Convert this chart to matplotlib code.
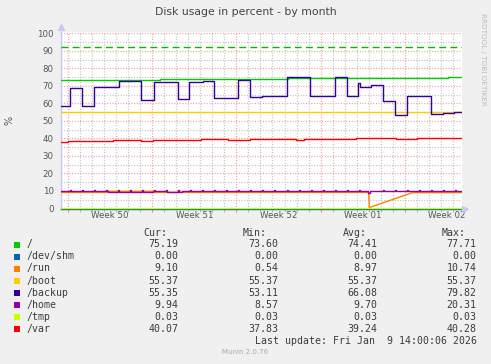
import matplotlib
matplotlib.use("Agg")
import matplotlib.pyplot as plt
import matplotlib.dates as mdates
import pandas as pd
from matplotlib.patches import Rectangle

# ---------------- data ----------------
title = "Disk usage in percent - by month"
x_start = "2025-12-07 09:30"
x_end = "2026-01-09 17:30"

series_names = ["/", "/dev/shm", "/run", "/boot", "/backup", "/home", "/tmp", "/var"]
series_colors = ["#00CC00", "#0066B3", "#FF8000", "#FFCC00", "#330099", "#990099", "#CCFF00", "#FF0000"]
cur_vals = ["75.19", "0.00", "9.10", "55.37", "55.35", "9.94", "0.03", "40.07"]
min_vals = ["73.60", "0.00", "0.54", "55.37", "53.11", "8.57", "0.03", "37.83"]
avg_vals = ["74.41", "0.00", "8.97", "55.37", "66.08", "9.70", "0.03", "39.24"]
max_vals = ["77.71", "0.00", "10.74", "55.37", "79.82", "20.31", "0.03", "40.28"]

root_t = ["2025-12-07 09:30", "2025-12-15 16:00", "2025-12-26 06:00", "2026-01-08 13:30", "2026-01-09 17:30"]
root_v = [73.6, 74.1, 74.5, 75.2, 75.2]

shm_t = ["2025-12-07 09:30", "2026-01-09 17:30"]
shm_v = [0.0, 0.0]

run_t = ["2025-12-07 09:30", "2025-12-11 08:00", "2025-12-11 08:00", "2025-12-15 02:00",
         "2025-12-15 02:00", "2026-01-02 00:00", "2026-01-02 01:00", "2026-01-05 15:30",
         "2026-01-09 17:30"]
run_v = [9.2, 9.2, 9.8, 9.8, 9.2, 9.2, 0.54, 9.1, 9.1]

boot_t = ["2025-12-07 09:30", "2026-01-09 17:30"]
boot_v = [55.37, 55.37]

backup_t = ["2025-12-07 09:30", "2025-12-08 04:00", "2025-12-09 04:00", "2025-12-10 03:30",
            "2025-12-12 05:30", "2025-12-14 02:40", "2025-12-15 03:30", "2025-12-17 04:00",
            "2025-12-18 01:30", "2025-12-19 05:30", "2025-12-20 02:40", "2025-12-22 03:30",
            "2025-12-23 04:00", "2025-12-24 03:30", "2025-12-26 05:30", "2025-12-28 02:40",
            "2025-12-30 04:50", "2025-12-31 04:00", "2026-01-01 03:30", "2026-01-01 06:00",
            "2026-01-02 04:00", "2026-01-03 03:30", "2026-01-04 04:50", "2026-01-05 04:00",
            "2026-01-07 04:00", "2026-01-08 03:30", "2026-01-09 02:40", "2026-01-09 17:30"]
backup_v = [58.6, 69.0, 58.6, 69.6,
            73.1, 61.8, 72.5, 62.4,
            72.5, 73.1, 62.9, 73.4,
            63.5, 64.2, 74.9, 64.2,
            74.9, 64.2, 71.9, 69.3,
            70.4, 61.2, 53.3, 64.3,
            54.0, 54.8, 55.4, 55.4]

home_base_t = ["2025-12-07 09:30", "2025-12-11 08:00", "2025-12-15 02:00", "2025-12-16 06:00",
               "2025-12-17 12:00", "2026-01-01 22:00", "2026-01-02 02:00", "2026-01-09 17:30"]
home_base_v = [9.9, 9.3, 9.9, 9.4, 9.9, 8.6, 9.9, 9.9]
home_spike_t = ["2025-12-08 05:00", "2025-12-09 05:00", "2025-12-10 05:00", "2025-12-11 05:00",
                "2025-12-12 05:00", "2025-12-13 05:00", "2025-12-14 05:00", "2025-12-15 05:00",
                "2025-12-16 05:00", "2025-12-17 05:00", "2025-12-18 05:00", "2025-12-19 05:00",
                "2025-12-20 05:00", "2025-12-21 05:00", "2025-12-22 05:00", "2025-12-23 05:00",
                "2025-12-24 05:00", "2025-12-25 05:00", "2025-12-26 05:00", "2025-12-27 05:00",
                "2025-12-28 05:00", "2025-12-29 05:00", "2025-12-30 05:00", "2025-12-31 05:00",
                "2026-01-01 05:00", "2026-01-03 05:00", "2026-01-04 05:00", "2026-01-05 05:00",
                "2026-01-06 05:00", "2026-01-07 05:00", "2026-01-08 05:00", "2026-01-09 05:00"]
home_spike_v = 10.7

tmp_t = ["2025-12-07 09:30", "2026-01-09 17:30"]
tmp_v = [0.03, 0.03]

var_t = ["2025-12-07 09:30", "2025-12-08 00:00", "2025-12-11 17:00", "2025-12-14 02:40",
         "2025-12-15 00:45", "2025-12-19 01:30", "2025-12-21 06:45", "2025-12-23 03:30",
         "2025-12-26 22:00", "2025-12-27 14:00", "2025-12-31 22:00", "2026-01-04 06:00",
         "2026-01-06 00:00", "2026-01-09 17:30"]
var_v = [37.8, 38.7, 39.3, 38.7,
         39.3, 39.7, 38.9, 39.7,
         38.9, 39.5, 40.1, 39.5,
         40.1, 40.1]

warning_level = 92

mondays = ["2025-12-08", "2025-12-15", "2025-12-22", "2025-12-29", "2026-01-05"]
week_label_t = ["2025-12-11 12:00", "2025-12-18 12:00", "2025-12-25 12:00", "2026-01-01 12:00", "2026-01-08 12:00"]
week_labels = ["Week 50", "Week 51", "Week 52", "Week 01", "Week 02"]
y_ticks = [0, 10, 20, 30, 40, 50, 60, 70, 80, 90, 100]
y_minor = [5, 15, 25, 35, 45, 55, 65, 75, 85, 95]

last_update = "Last update: Fri Jan  9 14:00:06 2026"

# ---------------- figure ----------------
W, H = 491, 364


def fx(x):
    return x / W


def fy(y):
    return 1 - y / H


BG = "#F0F0F0"
fig = plt.figure(figsize=(W / 100, H / 100), dpi=100, facecolor=BG)
L, R, T, B = 60.7, 461.7, 31.7, 208.5
ax = fig.add_axes([fx(L), fy(B), (R - L) / W, (B - T) / H])
ax.set_facecolor("white")

D = pd.to_datetime


def build_home():
    base = pd.Series(home_base_v, index=D(home_base_t))
    pts = list(zip(base.index, base.values))
    for s in D(home_spike_t):
        b = base.asof(s + pd.Timedelta(hours=1))
        pts.append((s - pd.Timedelta(hours=1), home_spike_v))
        pts.append((s + pd.Timedelta(hours=1), b))
    pts.sort(key=lambda p: p[0])
    return [p[0] for p in pts], [p[1] for p in pts]


home_t, home_v = build_home()

LW = 1.0
ax.plot(D(root_t), root_v, color=series_colors[0], lw=LW, drawstyle="steps-post", zorder=3)
ax.plot(D(shm_t), shm_v, color=series_colors[1], lw=LW, drawstyle="steps-post", zorder=3, clip_on=False)
ax.plot(D(run_t), run_v, color=series_colors[2], lw=LW, zorder=3)
ax.plot(D(boot_t), boot_v, color=series_colors[3], lw=LW, drawstyle="steps-post", zorder=3)
ax.plot(D(backup_t), backup_v, color=series_colors[4], lw=1.0, drawstyle="steps-post", zorder=3)
ax.plot(home_t, home_v, color=series_colors[5], lw=LW, drawstyle="steps-post", zorder=3)
ax.plot(D(tmp_t), tmp_v, color=series_colors[6], lw=LW, drawstyle="steps-post", zorder=3, clip_on=False)
ax.plot(D(var_t), var_v, color=series_colors[7], lw=LW, drawstyle="steps-post", zorder=3)
ax.axhline(warning_level, color="#00BB00", lw=1.0, dashes=(5, 3), zorder=3)

ax.set_xlim(D(x_start), D(x_end))
ax.set_ylim(0, 101)

# grids
MGRID = "#F09090"
GRID = "#BBBBBB"
dots = (0, (0.75, 1.4))
ax.set_xticks(D(mondays))
ax.xaxis.set_minor_locator(mdates.DayLocator())
ax.set_xticklabels([])
ax.set_yticks(y_ticks)
ax.set_yticks(y_minor, minor=True)
ax.grid(which="major", axis="both", color=MGRID, lw=0.9, linestyle=dots, zorder=1)
ax.grid(which="minor", axis="both", color=GRID, lw=0.9, linestyle=dots, zorder=0.9)
ax.tick_params(axis="x", which="major", length=2, color="#FF8080", width=0.8, direction="out")
ax.tick_params(axis="x", which="minor", length=2, color="#BBBBBB", width=0.8, direction="out")
ax.tick_params(axis="y", which="both", length=0, labelsize=6.2, labelcolor="#555555", pad=5)

sec = ax.secondary_xaxis("bottom")
sec.set_xticks(mdates.date2num(D(week_label_t)))
sec.set_xticklabels(week_labels)
sec.tick_params(length=0, labelsize=6.2, labelcolor="#555555", pad=2)
for s in sec.spines.values():
    s.set_visible(False)

for k in ("top", "right", "bottom"):
    ax.spines[k].set_visible(False)
ax.spines["left"].set_color("#C8C8F8")
ax.spines["left"].set_linewidth(1.0)

# axis arrows
ax.plot([0], [1.025], marker="^", ms=4, color="#C8C8F8", transform=ax.transAxes, clip_on=False, zorder=4)
ax.plot([1.008], [0], marker=">", ms=4, color="#C8C8F8", transform=ax.transAxes, clip_on=False, zorder=4)

# texts
fig.text(fx(245.5), fy(11.7), title, ha="center", va="center", fontsize=7.8, color="#444444")
fig.text(fx(9.3), fy(120), "%", ha="center", va="center", rotation=90, fontsize=7, color="#555555")
fig.text(fx(483), fy(13), "RRDTOOL / TOBI OETIKER", ha="center", va="top", rotation=270,
         fontsize=5.2, color="#BBBBBB")

mono = dict(family="DejaVu Sans Mono", fontsize=7.1, color="#3A3A3A")
hy = 232.7
fig.text(fx(143.3), fy(hy), "Cur:", ha="left", va="center", **mono)
fig.text(fx(242.7), fy(hy), "Min:", ha="left", va="center", **mono)
fig.text(fx(342.7), fy(hy), "Avg:", ha="left", va="center", **mono)
fig.text(fx(441.7), fy(hy), "Max:", ha="left", va="center", **mono)

row_y0, row_dy = 244.3, 12.07
for i, name in enumerate(series_names):
    y = row_y0 + i * row_dy
    fig.patches.append(Rectangle((fx(13.8), fy(y + 3.2)), 6 / W, 6 / H, transform=fig.transFigure,
                                 facecolor=series_colors[i], edgecolor="none"))
    fig.text(fx(26.7), fy(y), name, ha="left", va="center", **mono)
    fig.text(fx(178.7), fy(y), cur_vals[i], ha="right", va="center", **mono)
    fig.text(fx(278.7), fy(y), min_vals[i], ha="right", va="center", **mono)
    fig.text(fx(377.7), fy(y), avg_vals[i], ha="right", va="center", **mono)
    fig.text(fx(476.7), fy(y), max_vals[i], ha="right", va="center", **mono)

fig.text(fx(476.7), fy(340.7), last_update, ha="right", va="center", **mono)
fig.text(fx(245), fy(352.3), "Munin 2.0.76", ha="center", va="center", fontsize=5, color="#AAAAAA")

fig.savefig("out.png", dpi=100, facecolor=BG)
